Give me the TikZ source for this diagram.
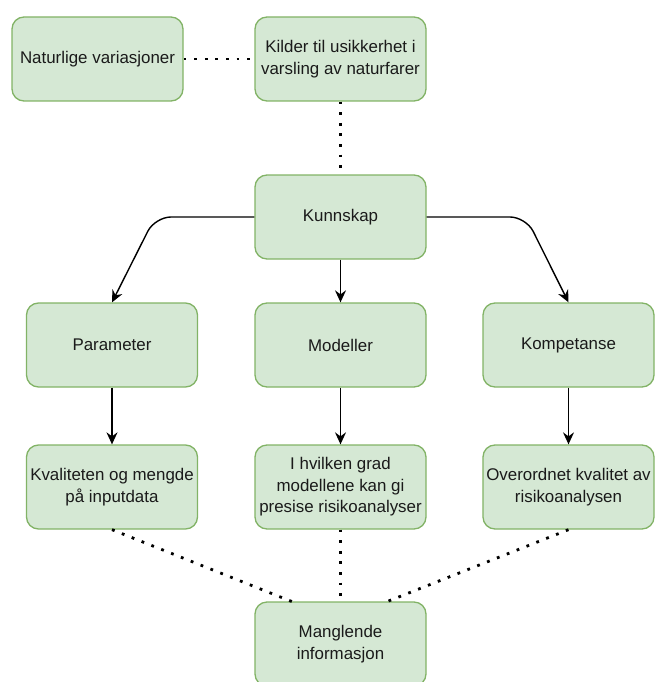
\documentclass[tikz,border=0pt]{standalone}
\usepackage{fontspec}
\setmainfont{Liberation Sans}
\usetikzlibrary{arrows.meta}
\definecolor{boxfill}{HTML}{D5E8D4}
\definecolor{boxline}{HTML}{82B366}
\definecolor{textdark}{HTML}{1A1A1A}

\begin{document}
\begin{tikzpicture}[
  x=1pt, y=-1pt,
  box/.style={draw=boxline, fill=boxfill, line width=1.3pt, rounded corners=12pt,
    minimum width=171pt, minimum height=84pt, align=center, text=textdark,
    font=\fontsize{16.9}{21.5}\selectfont},
  arr/.style={-{Stealth[length=12pt, width=11pt, inset=4pt]}, line width=1.4pt},
  dots/.style={line width=2.8pt, dash pattern=on 2.8pt off 7.8pt}
]
  \useasboundingbox (0,0) rectangle (654,682);

  \node[box] (nat) at (97.5,59)  {Naturlige variasjoner};
  \node[box] (kil) at (340.5,59) {Kilder til usikkerhet i\\varsling av naturfarer};
  \node[box] (kun) at (340.5,217) {Kunnskap};

  \node[box] (par) at (112,345)   {Parameter};
  \node[box] (mod) at (340.5,345) {Modeller};
  \node[box] (kom) at (568.5,345) {Kompetanse};

  \node[box] (kva) at (112,487)   {Kvaliteten og mengde\\på inputdata};
  \node[box] (hvi) at (340.5,487) {I hvilken grad\\modellene kan gi\\presise risikoanalyser};
  \node[box] (ove) at (568.5,487) {Overordnet kvalitet av\\risikoanalysen};

  \node[box] (man) at (340.5,644) {Manglende\\informasjon};

  \coordinate (kl) at (155,217);
  \coordinate (kr) at (526,217);
  \coordinate (ml) at (293,602);
  \coordinate (mr) at (386,602);

  \draw[dots] (nat) -- (kil);
  \draw[dots] (kil) -- (kun);

  \draw[arr, rounded corners=16pt] (kun.west) -- (kl) -- (par.north);
  \draw[arr] (kun) -- (mod);
  \draw[arr, rounded corners=16pt] (kun.east) -- (kr) -- (kom.north);

  \draw[arr] (par) -- (kva);
  \draw[arr] (mod) -- (hvi);
  \draw[arr] (kom) -- (ove);

  \draw[dots] (kva.south) -- (ml);
  \draw[dots] (hvi) -- (man);
  \draw[dots] (ove.south) -- (mr);
\end{tikzpicture}
\end{document}
